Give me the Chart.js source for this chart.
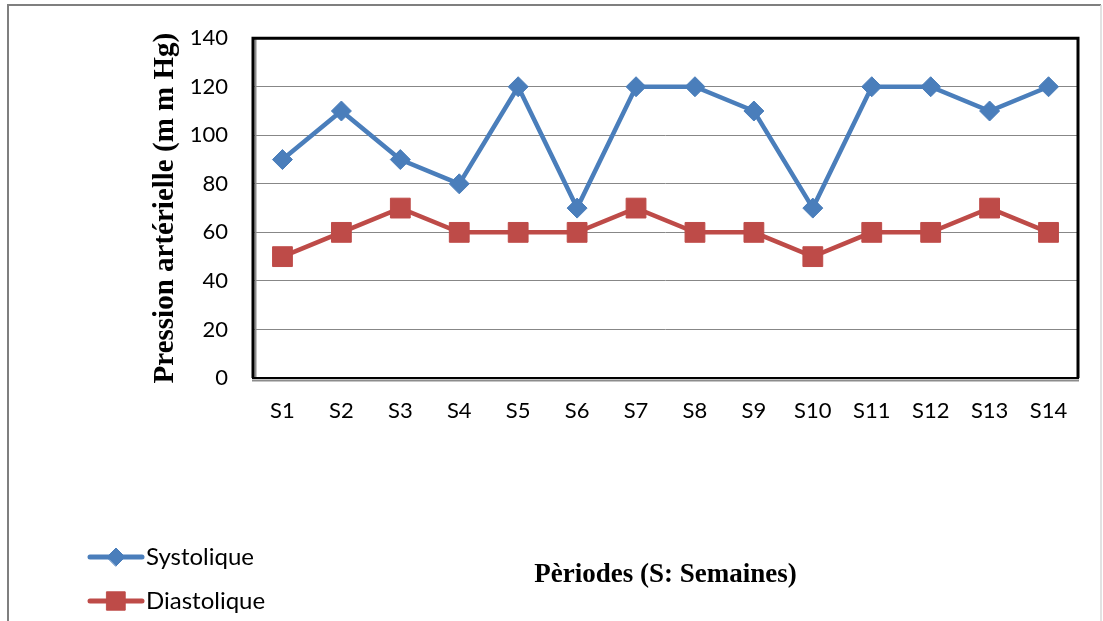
<!DOCTYPE html>
<html>
<head>
<meta charset="utf-8">
<script src="https://cdn.jsdelivr.net/npm/chart.js@4.4.1/dist/chart.umd.min.js"></script>
<style>
  html, body { margin: 0; padding: 0; background: #ffffff; }
  #wrap { width: 1103px; height: 621px; }
</style>
</head>
<body>
<div id="wrap"><canvas id="bp" width="1103" height="621"></canvas></div>
<script>
// Weekly blood pressure readings (mm Hg)
const weeks = ['S1','S2','S3','S4','S5','S6','S7','S8','S9','S10','S11','S12','S13','S14'];
const systolique = [90, 110, 90, 80, 120, 70, 120, 120, 110, 70, 120, 120, 110, 120];
const diastolique = [50, 60, 70, 60, 60, 60, 70, 60, 60, 50, 60, 60, 70, 60];
const yTicks = [0, 20, 40, 60, 80, 100, 120, 140];

const seriesNames = ['Systolique', 'Diastolique'];
const BLUE = '#4a7ebb';
const RED = '#be4b48';

const sansFamily = 'Lato, "Open Sans", sans-serif';
const tickFont = { family: sansFamily, size: 22 };
const serifBold = { family: '"Liberation Serif", "DejaVu Serif", serif', weight: 'bold' };

// White page with thin outer frame
const framePlugin = {
  id: 'frame',
  beforeDraw(chart) {
    const ctx = chart.ctx;
    ctx.save();
    ctx.fillStyle = '#ffffff';
    ctx.fillRect(0, 0, chart.width, chart.height);
    ctx.strokeStyle = '#7f7f7f';
    ctx.lineWidth = 2;
    ctx.beginPath();
    ctx.moveTo(8, chart.height);
    ctx.lineTo(8, 5);
    ctx.lineTo(1101, 5);
    ctx.stroke();
    ctx.strokeStyle = '#d9d9d9';
    ctx.lineWidth = 1.5;
    ctx.beginPath();
    ctx.moveTo(1101, 5);
    ctx.lineTo(1101, chart.height);
    ctx.stroke();
    ctx.restore();
  }
};

// Heavy plot-area border with a grey inner/under shading
const plotBorderPlugin = {
  id: 'plotBorder',
  beforeDatasetsDraw(chart) {
    const { left, top, right, bottom } = chart.chartArea;
    const ctx = chart.ctx;
    ctx.save();
    ctx.strokeStyle = '#8c8c8c';
    ctx.lineWidth = 2;
    ctx.beginPath();
    ctx.moveTo(left + 2.5, top + 1);
    ctx.lineTo(left + 2.5, bottom + 1);
    ctx.moveTo(left - 1, bottom + 2.5);
    ctx.lineTo(right + 1, bottom + 2.5);
    ctx.stroke();
    ctx.strokeStyle = '#000000';
    ctx.lineWidth = 3;
    ctx.beginPath();
    ctx.moveTo(left, bottom);
    ctx.lineTo(left, top);
    ctx.lineTo(right, top);
    ctx.lineTo(right, bottom);
    ctx.stroke();
    ctx.lineWidth = 2;
    ctx.beginPath();
    ctx.moveTo(left - 1, bottom);
    ctx.lineTo(right + 1, bottom);
    ctx.stroke();
    ctx.restore();
  }
};

// Legend at the lower left: line with its marker, then the name
const legendMarkerRadius = { rectRot: 9, rect: 13 };
const sideLegendPlugin = {
  id: 'sideLegend',
  afterDraw(chart) {
    const ctx = chart.ctx;
    const rows = [557, 601];
    chart.data.datasets.forEach((ds, i) => {
      const y = rows[i];
      ctx.save();
      ctx.strokeStyle = ds.borderColor;
      ctx.lineWidth = 5;
      ctx.lineCap = 'round';
      ctx.beginPath();
      ctx.moveTo(90, y);
      ctx.lineTo(142, y);
      ctx.stroke();
      ctx.fillStyle = ds.pointBackgroundColor;
      ctx.strokeStyle = ds.pointBackgroundColor;
      ctx.lineWidth = 1;
      Chart.helpers.drawPoint(ctx, {
        pointStyle: ds.pointStyle,
        radius: legendMarkerRadius[ds.pointStyle],
        borderWidth: 1
      }, 116, y);
      ctx.fillStyle = '#000000';
      ctx.font = `24px ${sansFamily}`;
      ctx.textAlign = 'left';
      ctx.textBaseline = 'middle';
      ctx.fillText(ds.label, 146, y);
      ctx.restore();
    });
  }
};

new Chart(document.getElementById('bp'), {
  type: 'line',
  data: {
    labels: weeks,
    datasets: [
      {
        label: seriesNames[0],
        data: systolique,
        borderColor: BLUE,
        backgroundColor: BLUE,
        pointBackgroundColor: BLUE,
        pointBorderColor: BLUE,
        borderWidth: 4.5,
        pointStyle: 'rectRot',
        pointRadius: 10,
        pointBorderWidth: 1,
        tension: 0
      },
      {
        label: seriesNames[1],
        data: diastolique,
        borderColor: RED,
        backgroundColor: RED,
        pointBackgroundColor: RED,
        pointBorderColor: RED,
        borderWidth: 4.5,
        pointStyle: 'rect',
        pointRadius: 14,
        pointBorderWidth: 1,
        tension: 0
      }
    ]
  },
  options: {
    responsive: false,
    animation: false,
    layout: { padding: { top: 37, right: 25, bottom: 0, left: 0 } },
    plugins: {
      legend: { display: false },
      tooltip: { enabled: false }
    },
    scales: {
      x: {
        offset: true,
        grid: { display: false, drawTicks: false },
        border: { display: false },
        ticks: { color: '#000000', font: tickFont, padding: 20, maxRotation: 0 },
        title: {
          display: true,
          text: 'Pèriodes (S: Semaines)',
          color: '#000000',
          font: Object.assign({ size: 27 }, serifBold),
          padding: { top: 0, bottom: 30 }
        },
        afterFit(scale) { scale.height = 621 - 378; }
      },
      y: {
        min: 0,
        max: 140,
        afterBuildTicks(scale) { scale.ticks = yTicks.map(v => ({ value: v })); },
        grid: { color: '#878787', lineWidth: 1, drawTicks: false },
        border: { display: false },
        ticks: { color: '#000000', font: tickFont, padding: 25 },
        title: {
          display: true,
          text: 'Pression artérielle (m m Hg)',
          color: '#000000',
          font: Object.assign({ size: 29 }, serifBold),
          padding: { top: 148, bottom: 0 }
        },
        afterFit(scale) { scale.width = 253; }
      }
    }
  },
  plugins: [framePlugin, plotBorderPlugin, sideLegendPlugin]
});
</script>
</body>
</html>
